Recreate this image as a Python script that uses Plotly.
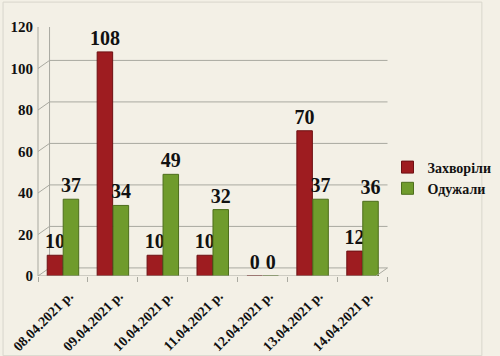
import plotly.graph_objects as go

dates = ["08.04.2021 р.", "09.04.2021 р.", "10.04.2021 р.", "11.04.2021 р.",
         "12.04.2021 р.", "13.04.2021 р.", "14.04.2021 р."]
sick = [10, 108, 10, 10, 0, 70, 12]
recovered = [37, 34, 49, 32, 0, 37, 36]
yticks = [0, 20, 40, 60, 80, 100, 120]

FONT = "Liberation Serif"
RED = "#9e1c20"
GREEN = "#6f9b2c"
BG = "#f3f0e6"
TXT = "#111111"

fig = go.Figure()
fig.add_bar(x=dates, y=sick, name="Захворіли", marker=dict(color=RED, line=dict(color="#6e1013", width=1)),
            text=[str(v) for v in sick], textposition="outside", constraintext="none",
            textfont=dict(family=FONT, size=20, color=TXT, weight="bold"), cliponaxis=False)
fig.add_bar(x=dates, y=recovered, name="Одужали", marker=dict(color=GREEN, line=dict(color="#4d6e1c", width=1)),
            text=[str(v) for v in recovered], textposition="outside", constraintext="none",
            textfont=dict(family=FONT, size=20, color=TXT, weight="bold"), cliponaxis=False)

shapes = []
off = 3.9
GC = "#a9a9a0"
for v in yticks:
    shapes.append(dict(type="line", xref="paper", yref="y", x0=0.033, x1=1.0, y0=v + off, y1=v + off,
                       line=dict(color=GC, width=1), layer="below"))
    shapes.append(dict(type="line", xref="paper", yref="y", x0=0.0, x1=0.033, y0=v, y1=v + off,
                       line=dict(color=GC, width=1), layer="below"))
shapes.append(dict(type="line", xref="paper", yref="y", x0=0.0, x1=0.967, y0=0, y1=0,
                   line=dict(color=GC, width=1)))
shapes.append(dict(type="line", xref="paper", yref="y", x0=0.967, x1=1.0, y0=0, y1=off,
                   line=dict(color=GC, width=1)))
shapes.append(dict(type="line", xref="paper", yref="y", x0=0.033, x1=0.033, y0=off, y1=120 + off,
                   line=dict(color=GC, width=1), layer="below"))
shapes.append(dict(type="line", xref="paper", yref="y", x0=0.0, x1=0.0, y0=0, y1=120,
                   line=dict(color=GC, width=1), layer="below"))
shapes.append(dict(type="rect", xref="paper", yref="paper", x0=-0.1, x1=1.27, y0=-0.32, y1=1.1,
                   line=dict(color="#d8d6cc", width=1), layer="below"))

fig.update_layout(
    width=500, height=356,
    margin=dict(l=38, r=100, t=27, b=80),
    paper_bgcolor=BG, plot_bgcolor=BG,
    barmode="group", bargap=0.36, bargroupgap=0.03,
    font=dict(family=FONT, color=TXT),
    showlegend=True,
    legend=dict(x=0.775, y=0.5, xref="container", yref="container", xanchor="left", yanchor="middle",
                font=dict(family=FONT, size=14, color=TXT, weight="bold"), bgcolor="rgba(0,0,0,0)",
                itemwidth=30, tracegroupgap=0),
    shapes=shapes,
    xaxis=dict(showgrid=False, tickangle=-45, automargin=False,
               tickfont=dict(family=FONT, size=14, color=TXT, weight="bold"),
               ticks="outside", tickson="boundaries", ticklen=5, tickcolor=GC,
               showline=False, ticklabelshift=6, ticklabelstandoff=8),
    yaxis=dict(range=[0, 120], tickvals=yticks, showgrid=False, zeroline=False, showline=False,
               automargin=False,
               tickfont=dict(family=FONT, size=15, color=TXT, weight="bold"), ticks="", ticklabelstandoff=4),
)

fig.write_html("out.html")
